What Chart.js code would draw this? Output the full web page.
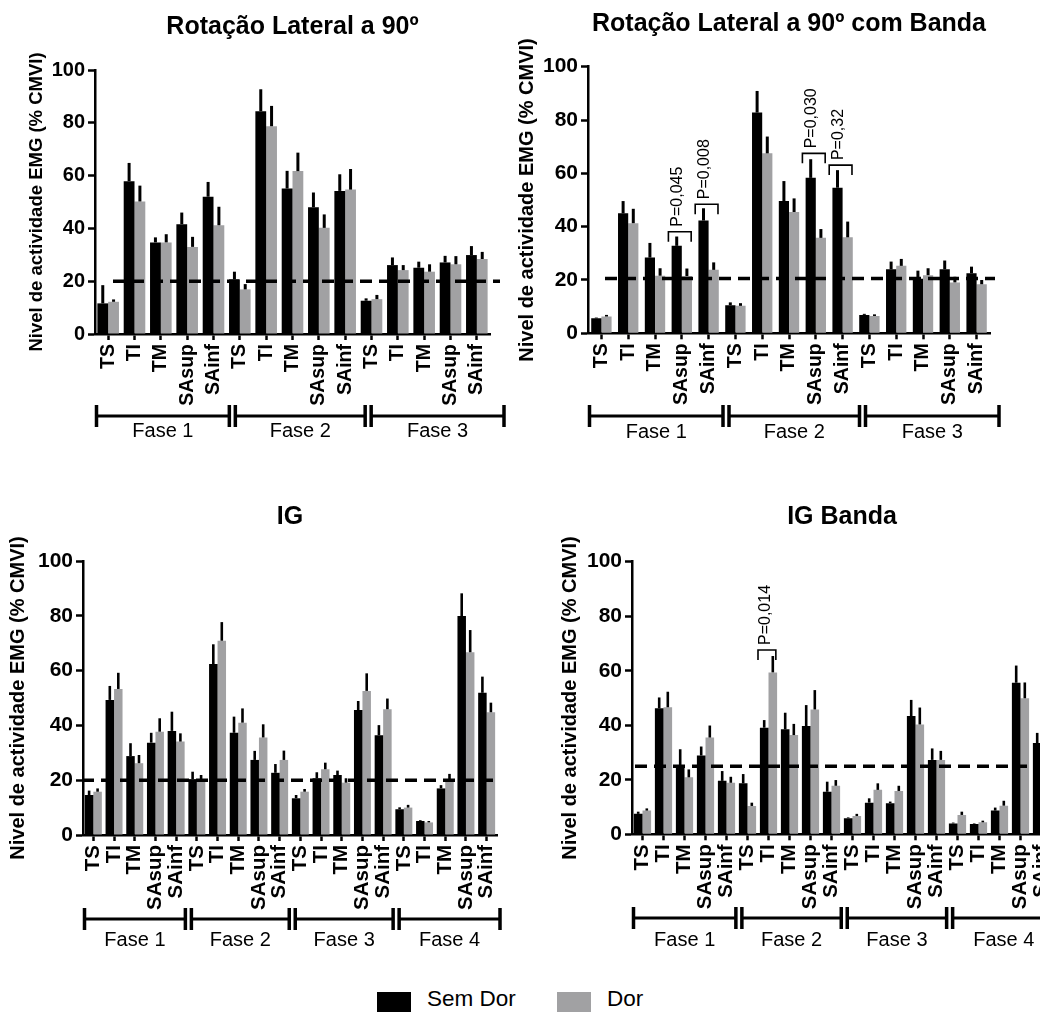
<!DOCTYPE html>
<html>
<head>
<meta charset="utf-8">
<script src="https://cdn.jsdelivr.net/npm/chart.js@4.4.1/dist/chart.umd.min.js"></script>
<style>
  html, body { margin: 0; padding: 0; width: 1040px; height: 1012px; overflow: hidden; background: #fff; }
  canvas { position: absolute; }
  .lg-text { position: absolute; font: 22.5px "Liberation Sans", Arial, sans-serif; color: #000; line-height: 26px; }
  .lg-box { position: absolute; width: 34px; height: 22px; }
</style>
</head>
<body>
<canvas id="rl90"></canvas>
<canvas id="rl90banda"></canvas>
<canvas id="ig"></canvas>
<canvas id="igbanda"></canvas>

<div class="lg-box" style="left:377px;top:992px;background:#000"></div>
<div class="lg-text" style="left:427px;top:986px">Sem Dor</div>
<div class="lg-box" style="left:557px;top:992px;background:#a1a1a3"></div>
<div class="lg-text" style="left:607px;top:986px">Dor</div>

<script>
// EMG activity (% CMVI) per muscle and phase, mean + SEM.
const MUSCLES = ['TS', 'TI', 'TM', 'SAsup', 'SAinf'];
const PHASES_3 = ['Fase 1', 'Fase 2', 'Fase 3'];
const PHASES_4 = ['Fase 1', 'Fase 2', 'Fase 3', 'Fase 4'];

// Rotação Lateral a 90º
const rl90SemDor    = [11.6, 57.9, 34.7, 41.6, 52.0, 20.7, 84.4, 55.1, 48.0, 54.2, 12.6, 26.1, 25.1, 27.1, 29.9];
const rl90SemDorErr = [6.9, 6.9, 1.9, 4.4, 5.6, 2.9, 8.3, 6.7, 5.6, 6.3, 0.9, 2.9, 2.3, 2.5, 3.4];
const rl90Dor       = [12.2, 50.2, 34.7, 33.0, 41.2, 16.9, 78.7, 61.7, 40.2, 54.7, 13.2, 24.2, 23.6, 26.4, 28.4];
const rl90DorErr    = [0.9, 6.0, 3.1, 3.8, 7.0, 2.0, 7.7, 7.0, 5.1, 7.8, 1.6, 1.9, 2.8, 3.1, 2.7];
const rl90Threshold = 20;

// Rotação Lateral a 90º com Banda
const rl90bSemDor    = [5.6, 45.0, 28.4, 32.8, 42.3, 10.5, 82.8, 49.6, 58.3, 54.6, 6.9, 24.0, 20.5, 24.0, 22.5];
const rl90bSemDorErr = [0.3, 4.6, 5.5, 3.5, 4.6, 1.1, 8.1, 7.5, 7.0, 6.6, 0.4, 2.9, 3.0, 3.3, 2.5];
const rl90bDor       = [6.3, 41.3, 21.6, 21.5, 23.8, 10.3, 67.5, 45.5, 35.8, 36.0, 6.5, 25.3, 21.8, 19.1, 18.4];
const rl90bDorErr    = [0.6, 5.4, 2.8, 2.8, 2.8, 1.0, 6.3, 5.1, 3.3, 5.9, 0.6, 2.6, 2.6, 2.1, 1.6];
const rl90bThreshold = 20.6;
const rl90bPIndex = [3, 4, 8, 9];
const rl90bPLevel = [38.1, 48.4, 67.5, 63.1];
const rl90bPText  = ['P=0,045', 'P=0,008', 'P=0,030', 'P=0,32'];

// IG
const igSemDor    = [14.6, 49.3, 28.8, 33.7, 38.0, 20.4, 62.4, 37.3, 27.4, 22.7, 13.4, 20.7, 21.9, 45.6, 36.4, 9.4, 5.1, 17.0, 79.9, 51.9];
const igSemDorErr = [1.6, 5.1, 4.7, 3.6, 7.0, 2.7, 7.2, 5.9, 3.3, 3.2, 1.2, 2.2, 1.6, 3.3, 3.7, 0.7, 0.3, 1.2, 8.3, 5.9];
const igDor       = [15.8, 53.3, 26.2, 37.7, 34.1, 19.7, 70.9, 41.0, 35.6, 27.4, 15.8, 24.0, 19.1, 52.6, 45.9, 10.0, 4.6, 19.5, 66.7, 44.8];
const igDorErr    = [1.2, 5.9, 3.0, 4.9, 3.0, 2.2, 6.8, 5.2, 4.8, 3.4, 1.0, 2.4, 1.6, 6.4, 3.9, 1.0, 0.5, 2.8, 8.1, 3.5];
const igThreshold = 20;

// IG Banda
const igbSemDor    = [7.5, 46.2, 25.1, 28.9, 19.6, 18.7, 39.1, 38.5, 39.7, 15.6, 5.9, 11.6, 11.4, 43.4, 27.3, 4.0, 3.8, 8.7, 55.6, 33.5];
const igbSemDorErr = [0.8, 4.0, 6.1, 3.3, 3.6, 3.4, 2.8, 6.1, 7.7, 3.7, 0.3, 1.6, 0.6, 5.9, 4.2, 0.3, 0.2, 1.1, 6.3, 3.7];
const igbDor       = [8.7, 46.6, 20.9, 35.5, 18.9, 10.4, 59.4, 36.4, 45.8, 17.8, 6.7, 16.3, 15.9, 40.3, 27.3, 7.1, 4.4, 10.5, 49.9, 41.9];
const igbDorErr    = [0.8, 5.7, 2.9, 4.4, 2.2, 1.2, 6.0, 4.1, 7.1, 2.1, 0.8, 2.4, 1.9, 6.2, 3.3, 1.2, 0.6, 1.8, 5.8, 5.5];
const igbThreshold = 25;
const igbPIndex = [6];
const igbPLevel = [67.6];
const igbPText  = ['P=0,014'];

const Y_TITLE = 'Nivel de actividade EMG (% CMVI)';
const BLACK = '#000000';
const GRAY = '#a1a1a3';
const FONT = '"Liberation Sans", Arial, Helvetica, sans-serif';
const X_AXIS_H = 90;

Chart.defaults.font.family = FONT;
Chart.defaults.color = '#000';

// ── Panel layout (absolute page pixels) ─────────────────────────────────────
const panels = [
    {
        id: 'rl90', title: 'Rotação Lateral a 90º', phases: PHASES_3,
        semDor: rl90SemDor, semDorErr: rl90SemDorErr, dor: rl90Dor, dorErr: rl90DorErr,
        threshold: rl90Threshold, pIndex: [], pLevel: [], pText: [],
        box: { x: 0, y: 0, w: 520, h: 460 }, area: { l: 95, t: 70, r: 490, b: 334 },
        yTitleX: 37, yTitleSize: 18.5, tickSize: 20, catSize: 19.5,
        titleY: 27, bracketY: 416, faseY: 431, bracketExt: 14, dash: [113, 500],
        catPct: 0.82, errWidth: 3
    },
    {
        id: 'rl90banda', title: 'Rotação Lateral a 90º com Banda', phases: PHASES_3,
        semDor: rl90bSemDor, semDorErr: rl90bSemDorErr, dor: rl90bDor, dorErr: rl90bDorErr,
        threshold: rl90bThreshold, pIndex: rl90bPIndex, pLevel: rl90bPLevel, pText: rl90bPText,
        box: { x: 505, y: 0, w: 535, h: 460 }, area: { l: 588, t: 66.7, r: 990, b: 333.3 },
        yTitleX: 527, yTitleSize: 20, tickSize: 21, catSize: 19.5,
        titleY: 24, bracketY: 416, faseY: 432, bracketExt: 9, dash: [605, 995],
        catPct: 0.76, errWidth: 3
    },
    {
        id: 'ig', title: 'IG', phases: PHASES_4,
        semDor: igSemDor, semDorErr: igSemDorErr, dor: igDor, dorErr: igDorErr,
        threshold: igThreshold, pIndex: [], pLevel: [], pText: [],
        box: { x: 0, y: 460, w: 520, h: 500 }, area: { l: 83, t: 561, r: 497, b: 835 },
        yTitleX: 18, yTitleSize: 20, tickSize: 21, catSize: 20.5,
        titleY: 517, bracketY: 919, faseY: 940, bracketExt: 3, dash: [82, 500],
        catPct: 0.82, errWidth: 2.6
    },
    {
        id: 'igbanda', title: 'IG Banda', phases: PHASES_4,
        semDor: igbSemDor, semDorErr: igbSemDorErr, dor: igbDor, dorErr: igbDorErr,
        threshold: igbThreshold, pIndex: igbPIndex, pLevel: igbPLevel, pText: igbPText,
        box: { x: 520, y: 460, w: 560, h: 500 }, area: { l: 632, t: 561.7, r: 1052, b: 834.3 },
        yTitleX: 570, yTitleSize: 20, tickSize: 21, catSize: 20.5,
        titleY: 517, bracketY: 918, faseY: 940, bracketExt: 3, dash: [635, 1080],
        catPct: 0.82, errWidth: 2.6
    }
];

// ── Extra marks: error bars, threshold, p brackets, title, phase brackets ──
function decorPlugin(p) {
    return {
        id: 'decor',
        afterDatasetsDraw(chart) {
            const { ctx, scales: { x, y } } = chart;
            const ox = p.box.x;
            ctx.save();
            ctx.strokeStyle = '#000';
            ctx.lineCap = 'butt';

            // SEM bars (upward only, no caps)
            ctx.lineWidth = p.errWidth;
            chart.data.datasets.forEach((ds, di) => {
                chart.getDatasetMeta(di).data.forEach((bar, i) => {
                    const e = ds.err[i];
                    if (!e) return;
                    ctx.beginPath();
                    ctx.moveTo(bar.x, y.getPixelForValue(ds.data[i]));
                    ctx.lineTo(bar.x, y.getPixelForValue(ds.data[i] + e));
                    ctx.stroke();
                });
            });

            // dashed reference line
            const ty = y.getPixelForValue(p.threshold);
            ctx.lineWidth = 3.5;
            ctx.setLineDash([12, 7]);
            ctx.beginPath();
            ctx.moveTo(p.dash[0] - ox, ty);
            ctx.lineTo(p.dash[1] - ox, ty);
            ctx.stroke();
            ctx.setLineDash([]);

            // significance brackets
            const cw = x.getPixelForValue(1) - x.getPixelForValue(0);
            p.pIndex.forEach((ci, k) => {
                const cx = x.getPixelForValue(ci);
                const ly = y.getPixelForValue(p.pLevel[k]);
                const x0 = cx - 0.5 * cw, x1 = cx + 0.35 * cw;
                ctx.lineWidth = 1.6;
                ctx.beginPath();
                ctx.moveTo(x0, ly + 10);
                ctx.lineTo(x0, ly);
                ctx.lineTo(x1, ly);
                ctx.lineTo(x1, ly + 10);
                ctx.stroke();
                ctx.save();
                ctx.translate(cx - 0.15 * cw, ly - 5);
                ctx.rotate(-Math.PI / 2);
                ctx.font = '16px "Liberation Sans Narrow", ' + FONT;
                ctx.fillStyle = '#000';
                ctx.textAlign = 'left';
                ctx.textBaseline = 'middle';
                ctx.fillText(p.pText[k], 0, 0);
                ctx.restore();
            });
            ctx.restore();
        },
        afterDraw(chart) {
            const { ctx, chartArea: a } = chart;
            const oy = p.box.y;
            ctx.save();
            ctx.fillStyle = '#000';
            ctx.strokeStyle = '#000';

            // panel title, centred over the plot area
            ctx.font = 'bold 25px ' + FONT;
            ctx.textAlign = 'center';
            ctx.textBaseline = 'middle';
            ctx.fillText(p.title, (a.left + a.right) / 2, p.titleY - oy);

            // phase brackets
            const n = p.phases.length;
            const s = a.left + 1.5, e = a.right + p.bracketExt;
            const seg = (e - s) / n;
            const by = p.bracketY - oy;
            ctx.font = '20px ' + FONT;
            p.phases.forEach((name, k) => {
                const l = s + k * seg + (k > 0 ? 3 : 0);
                const r = s + (k + 1) * seg - (k < n - 1 ? 3 : 0);
                ctx.lineWidth = 3;
                ctx.beginPath();
                ctx.moveTo(l, by);
                ctx.lineTo(r, by);
                ctx.stroke();
                ctx.lineWidth = 3.5;
                ctx.beginPath();
                ctx.moveTo(l, by - 11); ctx.lineTo(l, by + 11);
                ctx.moveTo(r, by - 11); ctx.lineTo(r, by + 11);
                ctx.stroke();
                ctx.fillText(name, (l + r) / 2, p.faseY - oy);
            });
            ctx.restore();
        }
    };
}

function makeChart(p) {
    const canvas = document.getElementById(p.id);
    canvas.width = p.box.w;
    canvas.height = p.box.h;
    canvas.style.left = p.box.x + 'px';
    canvas.style.top = p.box.y + 'px';

    const yW = p.area.l - p.box.x;
    const lh = p.yTitleSize * 1.2;
    const labels = p.phases.flatMap(() => MUSCLES);

    return new Chart(canvas, {
        type: 'bar',
        data: {
            labels,
            datasets: [
                { label: 'Sem Dor', data: p.semDor, err: p.semDorErr, backgroundColor: BLACK },
                { label: 'Dor', data: p.dor, err: p.dorErr, backgroundColor: GRAY }
            ]
        },
        options: {
            responsive: false,
            animation: false,
            layout: {
                padding: {
                    left: 0,
                    top: p.area.t - p.box.y,
                    right: p.box.x + p.box.w - p.area.r,
                    bottom: p.box.y + p.box.h - p.area.b - X_AXIS_H
                }
            },
            datasets: { bar: { categoryPercentage: p.catPct, barPercentage: 1.0, borderWidth: 0 } },
            plugins: { legend: { display: false }, tooltip: { enabled: false }, title: { display: false } },
            scales: {
                x: {
                    grid: { offset: false, drawOnChartArea: false, tickLength: 6, tickWidth: 2.5, tickColor: '#000' },
                    border: { color: '#000', width: 2.5 },
                    ticks: {
                        autoSkip: false, minRotation: 90, maxRotation: 90, padding: 4,
                        color: '#000', font: { size: p.catSize, weight: 'bold' }
                    },
                    afterFit: s => { s.height = X_AXIS_H; }
                },
                y: {
                    min: 0, max: 100,
                    ticks: { stepSize: 20, padding: 3, color: '#000', font: { size: p.tickSize, weight: 'bold' } },
                    grid: { drawOnChartArea: false, tickLength: 7, tickWidth: 2.5, tickColor: '#000' },
                    border: { color: '#000', width: 2.5 },
                    title: {
                        display: true, text: Y_TITLE, color: '#000',
                        font: { size: p.yTitleSize, weight: 'bold' },
                        padding: { top: p.yTitleX - p.box.x - lh / 2, bottom: 0 }
                    },
                    afterFit: s => { s.width = yW; }
                }
            }
        },
        plugins: [decorPlugin(p)]
    });
}

panels.forEach(makeChart);
</script>
</body>
</html>
